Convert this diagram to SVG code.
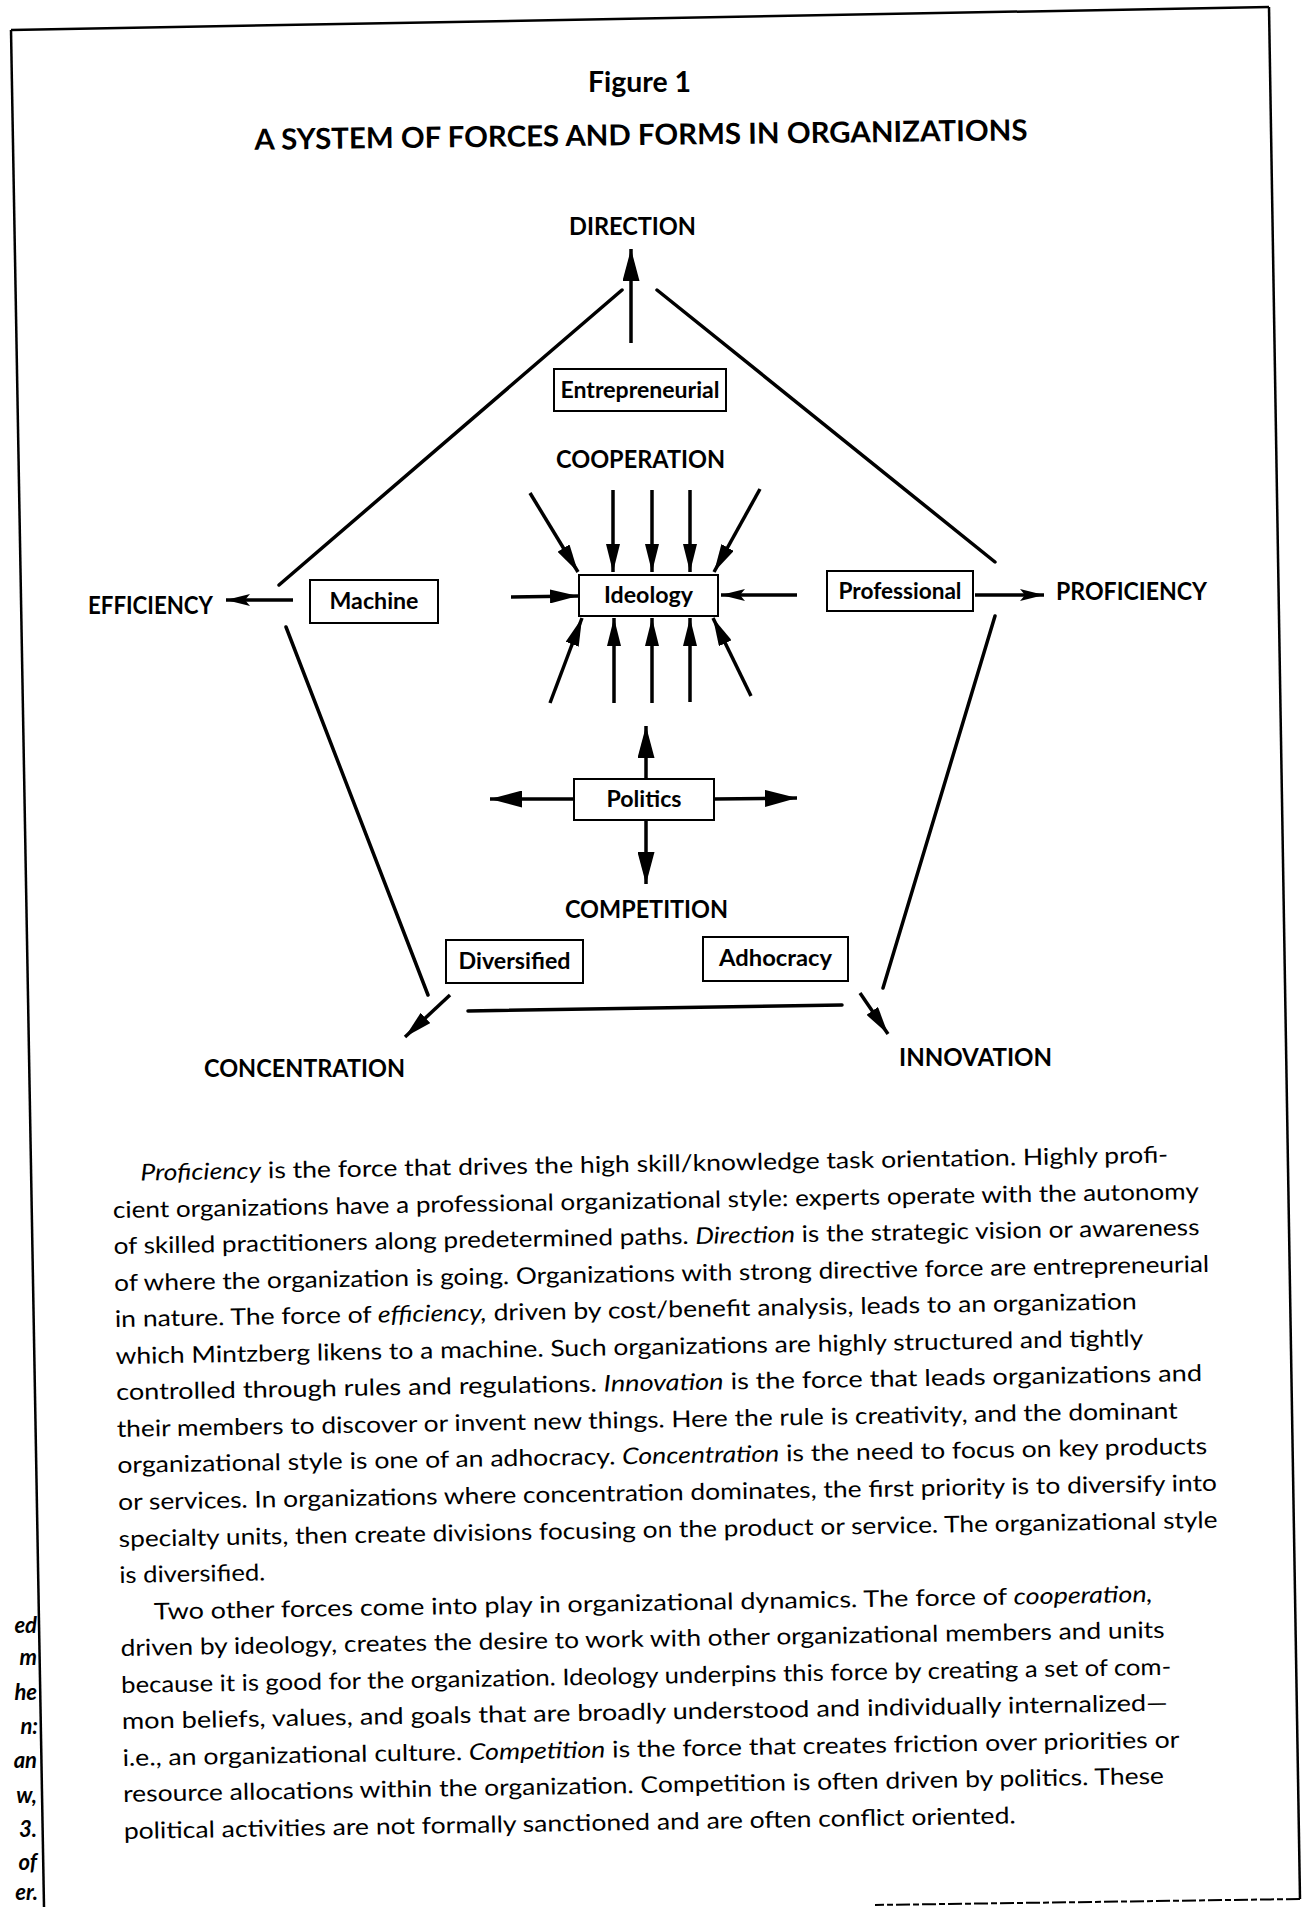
<svg xmlns="http://www.w3.org/2000/svg" width="1303" height="1907" viewBox="0 0 1303 1907">
<style>
.lbl{font-family:Lato,"Open Sans","Liberation Sans",sans-serif;font-weight:700;font-size:24px;fill:#000}
.bt{font-family:Lato,"Open Sans","Liberation Sans",sans-serif;font-weight:700;font-size:22px;fill:#000;text-anchor:middle}
.ttl{font-family:Lato,"Open Sans","Liberation Sans",sans-serif;font-weight:700;fill:#000}
.box{fill:#fff;stroke:#000;stroke-width:2}
.edge{stroke:#000;stroke-width:3.5;fill:none;stroke-linecap:round}
.arr{stroke:#000;stroke-width:3.5;fill:none}
.para{font-family:Lato,"Open Sans","Liberation Sans",sans-serif;font-size:23px;fill:#000}
.it{font-style:italic}
.mg{font-family:Lato,"Open Sans","Liberation Sans",sans-serif;font-size:22px;font-style:italic;font-weight:700;fill:#000;text-anchor:end}
.frame{stroke:#000;stroke-width:2.5;fill:none}
</style>
<defs>
<marker id="big" viewBox="0 0 32 17" refX="32" refY="8.5" markerWidth="32" markerHeight="17" markerUnits="userSpaceOnUse" orient="auto"><path d="M0,0 L32,8.5 L0,17 Z" fill="#000"/></marker>
<marker id="med" viewBox="0 0 28 14" refX="28" refY="7" markerWidth="28" markerHeight="14" markerUnits="userSpaceOnUse" orient="auto"><path d="M0,0 L28,7 L0,14 Z" fill="#000"/></marker>
<marker id="sml" viewBox="0 0 24 12" refX="24" refY="6" markerWidth="24" markerHeight="12" markerUnits="userSpaceOnUse" orient="auto"><path d="M0,0 L24,6 L0,12 L5,6 Z" fill="#000"/></marker>
</defs>
<rect width="1303" height="1907" fill="#fff"/>

<g id="frame">
<line class="frame" x1="11" y1="30" x2="1269" y2="7"/>
<line class="frame" x1="11" y1="30" x2="44" y2="1907"/>
<line class="frame" x1="1269" y1="7" x2="1300" y2="1899" stroke-width="2"/>
<line x1="1300" y1="1899" x2="875" y2="1905" stroke="#000" stroke-width="2" stroke-dasharray="14 3 6 3"/>
</g>

<g id="title">
<text class="ttl" x="639.5" y="92" font-size="28" text-anchor="middle" textLength="103" lengthAdjust="spacingAndGlyphs">Figure 1</text>
<text class="ttl" x="641" y="145" font-size="29" text-anchor="middle" textLength="773" lengthAdjust="spacingAndGlyphs" transform="rotate(-0.7 641 140)">A SYSTEM OF FORCES AND FORMS IN ORGANIZATIONS</text>
</g>

<g id="connectors">
<line class="edge" x1="279" y1="585" x2="622" y2="290"/>
<line class="edge" x1="657" y1="290" x2="995" y2="562"/>
<line class="edge" x1="995" y1="616" x2="883" y2="988"/>
<line class="edge" x1="286" y1="627" x2="428" y2="995"/>
<line class="edge" x1="468" y1="1011" x2="842" y2="1005"/>
<line class="arr" x1="631" y1="343" x2="631" y2="249" marker-end="url(#big)"/>
<line class="arr" x1="530" y1="493" x2="578" y2="572" marker-end="url(#med)"/>
<line class="arr" x1="613" y1="490" x2="613" y2="572" marker-end="url(#med)"/>
<line class="arr" x1="652" y1="490" x2="652" y2="572" marker-end="url(#med)"/>
<line class="arr" x1="690" y1="490" x2="690" y2="572" marker-end="url(#med)"/>
<line class="arr" x1="760" y1="489" x2="714" y2="572" marker-end="url(#med)"/>
<line class="arr" x1="293" y1="600" x2="226" y2="600" marker-end="url(#sml)"/>
<line class="arr" x1="511" y1="597" x2="578" y2="596" marker-end="url(#med)"/>
<line class="arr" x1="797" y1="595" x2="721" y2="595" marker-end="url(#sml)"/>
<line class="arr" x1="975" y1="595" x2="1044" y2="595" marker-end="url(#sml)"/>
<line class="arr" x1="550" y1="703" x2="582" y2="618" marker-end="url(#med)"/>
<line class="arr" x1="614" y1="703" x2="614" y2="618" marker-end="url(#med)"/>
<line class="arr" x1="652" y1="703" x2="652" y2="618" marker-end="url(#med)"/>
<line class="arr" x1="690" y1="702" x2="690" y2="618" marker-end="url(#med)"/>
<line class="arr" x1="751" y1="696" x2="713" y2="618" marker-end="url(#med)"/>
<line class="arr" x1="646" y1="779" x2="646" y2="726" marker-end="url(#big)"/>
<line class="arr" x1="574" y1="799" x2="490" y2="799" marker-end="url(#big)"/>
<line class="arr" x1="714" y1="799" x2="797" y2="798" marker-end="url(#big)"/>
<line class="arr" x1="646" y1="820" x2="646" y2="884" marker-end="url(#big)"/>
<line class="arr" x1="450" y1="995" x2="405" y2="1037" marker-end="url(#med)"/>
<line class="arr" x1="860" y1="993" x2="888" y2="1034" marker-end="url(#med)"/>
</g>

<g id="forces">
<text class="lbl" x="569" y="235" textLength="127" lengthAdjust="spacingAndGlyphs">DIRECTION</text>
<text class="lbl" x="556" y="468" textLength="169" lengthAdjust="spacingAndGlyphs">COOPERATION</text>
<text class="lbl" x="88" y="614" textLength="125" lengthAdjust="spacingAndGlyphs">EFFICIENCY</text>
<text class="lbl" x="1056" y="600" textLength="151" lengthAdjust="spacingAndGlyphs">PROFICIENCY</text>
<text class="lbl" x="565" y="918" textLength="163" lengthAdjust="spacingAndGlyphs">COMPETITION</text>
<text class="lbl" x="204" y="1077" textLength="201" lengthAdjust="spacingAndGlyphs">CONCENTRATION</text>
<text class="lbl" x="899" y="1066" textLength="153" lengthAdjust="spacingAndGlyphs">INNOVATION</text>
</g>

<g id="node-entrepreneurial"><rect class="box" x="554" y="369" width="172" height="42"/><text class="bt" x="640" y="398" textLength="159" lengthAdjust="spacingAndGlyphs">Entrepreneurial</text></g>
<g id="node-ideology"><rect class="box" x="579" y="575" width="139" height="41"/><text class="bt" x="648.5" y="603" textLength="89" lengthAdjust="spacingAndGlyphs">Ideology</text></g>
<g id="node-machine"><rect class="box" x="310" y="580" width="128" height="43"/><text class="bt" x="374" y="609" textLength="89" lengthAdjust="spacingAndGlyphs">Machine</text></g>
<g id="node-professional"><rect class="box" x="827" y="571" width="146" height="40"/><text class="bt" x="900" y="599" textLength="123" lengthAdjust="spacingAndGlyphs">Professional</text></g>
<g id="node-politics"><rect class="box" x="574" y="779" width="140" height="41"/><text class="bt" x="644" y="807" textLength="75" lengthAdjust="spacingAndGlyphs">Politics</text></g>
<g id="node-diversified"><rect class="box" x="446" y="940" width="137" height="43"/><text class="bt" x="514.5" y="969" textLength="112" lengthAdjust="spacingAndGlyphs">Diversified</text></g>
<g id="node-adhocracy"><rect class="box" x="703" y="937" width="145" height="44"/><text class="bt" x="775.5" y="966" textLength="113" lengthAdjust="spacingAndGlyphs">Adhocracy</text></g>

<g id="body" class="para" transform="rotate(-1 118 1500)">
<text x="146" y="1181" textLength="1028" lengthAdjust="spacingAndGlyphs"><tspan class="it">Proficiency</tspan> is the force that drives the high skill/knowledge task orientation. Highly profi-</text>
<text x="118" y="1218" textLength="1086" lengthAdjust="spacingAndGlyphs">cient organizations have a professional organizational style: experts operate with the autonomy</text>
<text x="118" y="1254" textLength="1086" lengthAdjust="spacingAndGlyphs">of skilled practitioners along predetermined paths. <tspan class="it">Direction</tspan> is the strategic vision or awareness</text>
<text x="118" y="1291" textLength="1095" lengthAdjust="spacingAndGlyphs">of where the organization is going. Organizations with strong directive force are entrepreneurial</text>
<text x="118" y="1327" textLength="1022" lengthAdjust="spacingAndGlyphs">in nature. The force of <tspan class="it">efficiency,</tspan> driven by cost/benefit analysis, leads to an organization</text>
<text x="118" y="1364" textLength="1028" lengthAdjust="spacingAndGlyphs">which Mintzberg likens to a machine. Such organizations are highly structured and tightly</text>
<text x="118" y="1400" textLength="1086" lengthAdjust="spacingAndGlyphs">controlled through rules and regulations. <tspan class="it">Innovation</tspan> is the force that leads organizations and</text>
<text x="118" y="1437" textLength="1061" lengthAdjust="spacingAndGlyphs">their members to discover or invent new things. Here the rule is creativity, and the dominant</text>
<text x="118" y="1473" textLength="1090" lengthAdjust="spacingAndGlyphs">organizational style is one of an adhocracy. <tspan class="it">Concentration</tspan> is the need to focus on key products</text>
<text x="118" y="1510" textLength="1099" lengthAdjust="spacingAndGlyphs">or services. In organizations where concentration dominates, the first priority is to diversify into</text>
<text x="118" y="1547" textLength="1099" lengthAdjust="spacingAndGlyphs">specialty units, then create divisions focusing on the product or service. The organizational style</text>
<text x="118" y="1583" textLength="146" lengthAdjust="spacingAndGlyphs">is diversified.</text>
<text x="152" y="1620" textLength="999" lengthAdjust="spacingAndGlyphs">Two other forces come into play in organizational dynamics. The force of <tspan class="it">cooperation,</tspan></text>
<text x="118" y="1656" textLength="1044" lengthAdjust="spacingAndGlyphs">driven by ideology, creates the desire to work with other organizational members and units</text>
<text x="118" y="1693" textLength="1050" lengthAdjust="spacingAndGlyphs">because it is good for the organization. Ideology underpins this force by creating a set of com-</text>
<text x="118" y="1729" textLength="1046" lengthAdjust="spacingAndGlyphs">mon beliefs, values, and goals that are broadly understood and individually internalized—</text>
<text x="118" y="1766" textLength="1057" lengthAdjust="spacingAndGlyphs">i.e., an organizational culture. <tspan class="it">Competition</tspan> is the force that creates friction over priorities or</text>
<text x="118" y="1802" textLength="1041" lengthAdjust="spacingAndGlyphs">resource allocations within the organization. Competition is often driven by politics. These</text>
<text x="118" y="1839" textLength="892" lengthAdjust="spacingAndGlyphs">political activities are not formally sanctioned and are often conflict oriented.</text>
</g>

<g id="margin">
<text class="mg" x="37" y="1633">ed</text>
<text class="mg" x="37" y="1665">m</text>
<text class="mg" x="37" y="1700">he</text>
<text class="mg" x="38" y="1734">n:</text>
<text class="mg" x="37" y="1768">an</text>
<text class="mg" x="37" y="1803">w,</text>
<text class="mg" x="37" y="1837">3.</text>
<text class="mg" x="37" y="1870">of</text>
<text class="mg" x="38" y="1900">er.</text>
</g>
</svg>
